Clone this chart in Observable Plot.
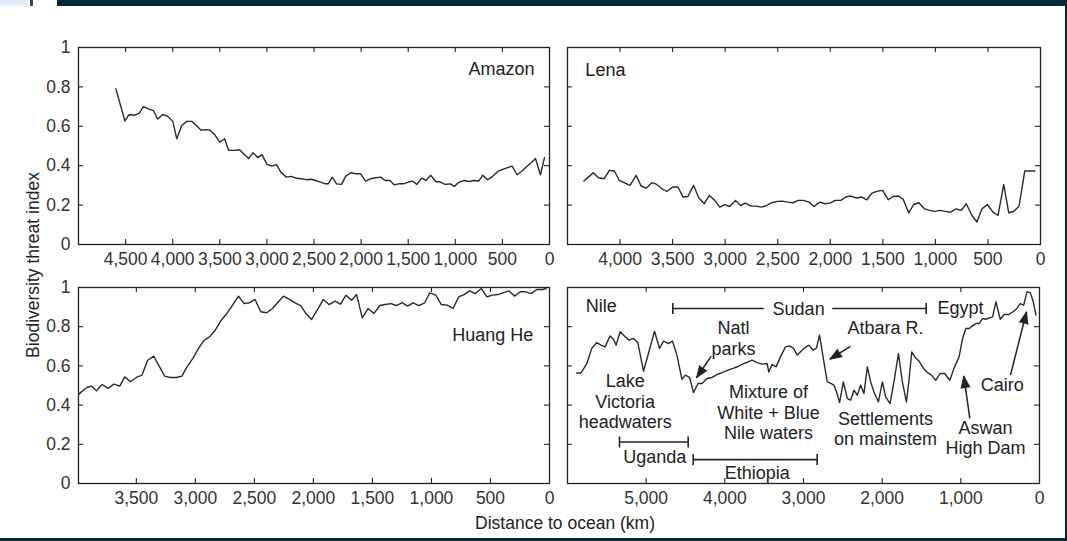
<!DOCTYPE html>
<html>
<head>
<meta charset="utf-8">
<script src="https://cdn.jsdelivr.net/npm/d3@7"></script>
<script src="https://cdn.jsdelivr.net/npm/@observablehq/plot@0.6"></script>
<style>
html,body{margin:0;padding:0;background:#fff;}
body{width:1067px;height:541px;overflow:hidden;position:relative;font-family:"Liberation Sans",Arial,Helvetica,sans-serif;color:#222;}
.abs{position:absolute;}
.panel svg{overflow:visible;}
.title{position:absolute;font-size:17.5px;white-space:nowrap;color:#222;}
</style>
</head>
<body>
<div class="abs" style="left:0;top:0;width:28px;height:6px;background:#deedfb"></div>
<div class="abs" style="left:30px;top:0;width:3px;height:6px;background:#44404e"></div>
<div class="abs" style="left:57px;top:0;width:1010px;height:6px;background:#03283c"></div>
<div class="abs" style="left:1065px;top:6px;width:2px;height:535px;background:#03283c"></div>
<div class="abs" style="left:0;top:538px;width:1067px;height:3px;background:#03283c"></div>
<div id="p-amazon" class="abs panel" style="left:0;top:37px"></div>
<div id="p-lena" class="abs panel" style="left:557px;top:37px"></div>
<div id="p-huang" class="abs panel" style="left:0;top:277px"></div>
<div id="p-nile" class="abs panel" style="left:557px;top:277px"></div>
<div class="title" id="ytitle" style="left:33px;top:265px;transform:translate(-50%,-50%) rotate(-90deg)">Biodiversity threat index</div>
<div class="title" id="xtitle" style="left:565px;top:523px;transform:translate(-50%,-50%)">Distance to ocean (km)</div>
<script>
// ---- data: [distance to ocean (km), biodiversity threat index] ----
const amazon = [[4603,0.79],[4507,0.627],[4461,0.66],[4407,0.656],[4354,0.667],[4312,0.70],[4265,0.69],[4205,0.68],[4159,0.637],[4106,0.66],[4052,0.65],[3999,0.625],[3957,0.537],[3903,0.605],[3850,0.625],[3797,0.625],[3751,0.605],[3698,0.58],[3644,0.583],[3602,0.58],[3549,0.554],[3502,0.52],[3449,0.537],[3407,0.478],[3343,0.478],[3290,0.481],[3247,0.461],[3194,0.436],[3148,0.466],[3094,0.441],[3052,0.456],[2999,0.407],[2945,0.398],[2899,0.405],[2846,0.364],[2793,0.342],[2740,0.346],[2686,0.336],[2633,0.334],[2580,0.329],[2527,0.331],[2484,0.325],[2431,0.317],[2378,0.308],[2349,0.308],[2307,0.342],[2260,0.308],[2207,0.305],[2165,0.346],[2111,0.364],[2058,0.359],[2005,0.359],[1952,0.322],[1898,0.334],[1845,0.339],[1792,0.342],[1746,0.325],[1693,0.325],[1650,0.303],[1597,0.308],[1551,0.308],[1498,0.317],[1455,0.322],[1409,0.305],[1356,0.337],[1313,0.325],[1260,0.351],[1207,0.32],[1160,0.317],[1107,0.305],[1054,0.308],[1011,0.295],[958,0.317],[905,0.325],[852,0.32],[806,0.325],[752,0.322],[710,0.351],[656,0.329],[603,0.346],[550,0.371],[497,0.381],[444,0.39],[397,0.398],[344,0.354],[291,0.373],[238,0.397],[195,0.415],[149,0.436],[96,0.354],[53,0.441]];
const lena = [[4344,0.322],[4302,0.342],[4255,0.364],[4207,0.339],[4150,0.334],[4102,0.376],[4054,0.373],[4006,0.325],[3952,0.312],[3905,0.30],[3847,0.351],[3800,0.297],[3752,0.286],[3698,0.314],[3650,0.305],[3602,0.283],[3555,0.269],[3500,0.292],[3449,0.292],[3402,0.241],[3354,0.244],[3300,0.30],[3252,0.237],[3198,0.207],[3150,0.249],[3099,0.224],[3052,0.19],[3004,0.202],[2956,0.193],[2902,0.224],[2854,0.198],[2807,0.21],[2753,0.195],[2705,0.195],[2654,0.19],[2606,0.198],[2558,0.212],[2504,0.219],[2457,0.22],[2403,0.215],[2355,0.212],[2304,0.224],[2256,0.224],[2202,0.215],[2154,0.193],[2100,0.215],[2052,0.207],[2002,0.21],[1954,0.224],[1900,0.224],[1852,0.241],[1804,0.246],[1750,0.236],[1702,0.241],[1652,0.227],[1604,0.261],[1550,0.271],[1502,0.275],[1448,0.227],[1400,0.244],[1352,0.246],[1305,0.229],[1254,0.161],[1206,0.203],[1158,0.212],[1104,0.181],[1056,0.173],[1002,0.168],[955,0.173],[907,0.168],[856,0.164],[802,0.181],[754,0.173],[706,0.207],[652,0.147],[605,0.114],[557,0.181],[506,0.203],[452,0.164],[404,0.147],[350,0.305],[302,0.161],[251,0.169],[204,0.195],[150,0.373],[54,0.373]];
const huangHe = [[3987,0.456],[3950,0.476],[3917,0.49],[3880,0.497],[3838,0.473],[3790,0.505],[3739,0.485],[3691,0.507],[3640,0.497],[3598,0.544],[3550,0.519],[3500,0.541],[3452,0.553],[3404,0.629],[3353,0.65],[3311,0.604],[3260,0.548],[3212,0.541],[3161,0.541],[3114,0.548],[3071,0.595],[3021,0.638],[2973,0.689],[2925,0.731],[2880,0.748],[2832,0.782],[2781,0.833],[2733,0.867],[2685,0.91],[2635,0.956],[2587,0.918],[2542,0.922],[2494,0.939],[2446,0.876],[2395,0.871],[2347,0.893],[2302,0.923],[2254,0.956],[2203,0.939],[2156,0.922],[2108,0.908],[2063,0.867],[2015,0.837],[1964,0.888],[1916,0.939],[1868,0.913],[1817,0.93],[1770,0.915],[1724,0.961],[1677,0.935],[1634,0.964],[1586,0.845],[1536,0.893],[1488,0.867],[1437,0.908],[1389,0.913],[1344,0.918],[1296,0.908],[1248,0.923],[1203,0.905],[1155,0.922],[1107,0.908],[1057,0.922],[1014,0.973],[964,0.961],[916,0.913],[868,0.91],[817,0.893],[769,0.952],[724,0.964],[676,0.983],[628,0.969],[578,0.995],[530,0.952],[485,0.961],[437,0.964],[389,0.974],[344,0.983],[296,0.956],[248,0.978],[203,0.978],[155,0.969],[107,0.99],[56,0.99],[28,0.995]];
const nile = [[5883,0.564],[5828,0.564],[5755,0.612],[5692,0.689],[5628,0.719],[5573,0.706],[5522,0.697],[5459,0.753],[5416,0.736],[5382,0.706],[5331,0.774],[5276,0.753],[5217,0.731],[5162,0.74],[5106,0.719],[5034,0.573],[4971,0.663],[4894,0.777],[4830,0.689],[4780,0.726],[4716,0.714],[4665,0.726],[4609,0.655],[4545,0.531],[4503,0.553],[4448,0.542],[4398,0.464],[4341,0.51],[4290,0.51],[4227,0.536],[4163,0.541],[4099,0.556],[4036,0.566],[3959,0.578],[3896,0.587],[3832,0.597],[3768,0.61],[3705,0.62],[3653,0.629],[3590,0.617],[3526,0.609],[3462,0.612],[3442,0.569],[3399,0.607],[3348,0.595],[3293,0.646],[3229,0.697],[3178,0.702],[3124,0.689],[3080,0.655],[3017,0.68],[2996,0.689],[2932,0.706],[2877,0.68],[2834,0.692],[2796,0.757],[2741,0.62],[2698,0.518],[2647,0.51],[2614,0.502],[2580,0.467],[2541,0.413],[2494,0.518],[2443,0.434],[2401,0.425],[2359,0.476],[2316,0.451],[2274,0.502],[2232,0.459],[2188,0.595],[2146,0.518],[2104,0.467],[2048,0.416],[1997,0.518],[1955,0.442],[1900,0.408],[1850,0.518],[1793,0.663],[1743,0.518],[1692,0.416],[1659,0.527],[1624,0.671],[1586,0.646],[1531,0.624],[1475,0.587],[1424,0.566],[1373,0.553],[1318,0.527],[1264,0.561],[1204,0.561],[1140,0.527],[1085,0.59],[1022,0.646],[978,0.74],[936,0.791],[894,0.791],[851,0.804],[809,0.816],[767,0.816],[724,0.842],[682,0.838],[639,0.845],[596,0.85],[554,0.927],[499,0.838],[448,0.862],[397,0.862],[341,0.875],[287,0.893],[245,0.918],[201,0.91],[159,0.978],[117,0.974],[79,0.927],[45,0.859]];

const amazonTicks = [4500,4000,3500,3000,2500,2000,1500,1000,500,0];
const lenaTicks = [4000,3500,3000,2500,2000,1500,1000,500,0];
const huangHeTicks = [3500,3000,2500,2000,1500,1000,500,0];
const nileTicks = [5000,4000,3000,2000,1000,0];
const yTicks = [0,0.2,0.4,0.6,0.8,1];

// Nile annotations (km, index)
const nileLabels = [
  {text:"Sudan", km:3062, v:0.893},
  {text:"Egypt", km:1005, v:0.9},
  {text:"Natl\nparks", km:3889, v:0.744},
  {text:"Atbara R.", km:1958, v:0.796},
  {text:"Lake\nVictoria\nheadwaters", km:5267, v:0.42},
  {text:"Mixture of\nWhite + Blue\nNile waters", km:3444, v:0.365},
  {text:"Settlements\non mainstem", km:1958, v:0.282},
  {text:"Aswan\nHigh Dam", km:687, v:0.236},
  {text:"Cairo", km:474, v:0.505},
  {text:"Uganda", km:4890, v:0.136},
  {text:"Ethiopia", km:3589, v:0.059}
];
const nileArrows = [
  {km1:4173, v1:0.65, km2:4360, v2:0.539},
  {km1:2402, v1:0.70, km2:2666, v2:0.634},
  {km1:886, v1:0.332, km2:962, v2:0.549},
  {km1:369, v1:0.553, km2:165, v2:0.876}
];
// bracket segments and their end caps
const nileBracketSegments = [
  {km1:4661, km2:3505, v:0.893},
  {km1:2635, km2:1440, v:0.893},
  {km1:5339, km2:4466, v:0.212},
  {km1:4402, km2:2826, v:0.122}
];
const nileBracketCaps = [
  {km:4661, v:0.893},{km:1440, v:0.893},
  {km:5339, v:0.212},{km:4466, v:0.212},
  {km:4402, v:0.122},{km:2826, v:0.122}
];

const INK = "#222";
const LINE = "#2a2a2a";
const TICKFONT = 17.5;
const ANNFONT = 18;

function panel(opts) {
  const {data, xmax, ticks, W, H, ml, showY, name, extra = []} = opts;
  const mt = 10, mr = 12, mb = 32;
  const marks = [
    Plot.frame({stroke: INK, strokeWidth: 1.3}),
    Plot.ruleX(ticks.filter(t => t > 0), {x: d => d, stroke: INK, strokeWidth: 1.1, insetTop: H - 5}),
    Plot.ruleX(ticks.filter(t => t > 0), {x: d => d, stroke: INK, strokeWidth: 1.1, insetBottom: H - 5}),
    Plot.ruleY(yTicks.filter(t => t > 0 && t < 1), {y: d => d, stroke: INK, strokeWidth: 1.1, insetRight: W - 5}),
    Plot.ruleY(yTicks.filter(t => t > 0 && t < 1), {y: d => d, stroke: INK, strokeWidth: 1.1, insetLeft: W - 5}),
    Plot.axisX(ticks, {anchor: "bottom", tickSize: 0, tickPadding: 8, tickFormat: d3.format(","), fontSize: TICKFONT, fill: "#333", label: null}),
    Plot.line(data, {x: d => d[0], y: d => d[1], stroke: LINE, strokeWidth: 1.4, strokeLinejoin: "round"}),
    ...extra
  ];
  if (showY) marks.push(Plot.axisY(yTicks, {anchor: "left", tickSize: 0, tickPadding: 8, tickFormat: d => String(d), fontSize: TICKFONT, fill: "#333", label: null}));
  if (name) marks.push(Plot.text([name], {x: name.km, y: name.v, text: d => d.text, textAnchor: name.anchor, fontSize: ANNFONT, fill: INK}));
  return Plot.plot({
    width: ml + W + mr,
    height: mt + H + mb,
    marginLeft: ml, marginRight: mr, marginTop: mt, marginBottom: mb,
    style: {background: "transparent", overflow: "visible", fontFamily: "'Liberation Sans', Arial, Helvetica, sans-serif"},
    x: {domain: [xmax, 0], axis: null},
    y: {domain: [0, 1], axis: null},
    marks
  });
}

document.getElementById("p-amazon").append(panel({
  data: amazon, xmax: 5000, ticks: amazonTicks, W: 471, H: 197, ml: 78, showY: true,
  name: {text: "Amazon", km: 160, v: 0.888, anchor: "end"}
}));
document.getElementById("p-lena").append(panel({
  data: lena, xmax: 4500, ticks: lenaTicks, W: 473, H: 197, ml: 10, showY: false,
  name: {text: "Lena", km: 4330, v: 0.887, anchor: "start"}
}));
document.getElementById("p-huang").append(panel({
  data: huangHe, xmax: 3990, ticks: huangHeTicks, W: 471, H: 196, ml: 78, showY: true,
  name: {text: "Huang He", km: 138, v: 0.757, anchor: "end"}
}));

const NW = 472, NH = 196, NMAX = 6000;
const kx = NW / NMAX;
const nileExtra = [
  Plot.text(nileLabels, {x: "km", y: "v", text: "text", textAnchor: "middle", lineAnchor: "middle", lineHeight: 1.15, fontSize: ANNFONT, fill: INK}),
  Plot.link(nileBracketSegments, {x1: "km1", x2: "km2", y1: "v", y2: "v", stroke: INK, strokeWidth: 1.6}),
  Plot.link(nileBracketCaps, {x1: "km", x2: "km", y1: d => d.v - 0.028, y2: d => d.v + 0.028, stroke: INK, strokeWidth: 1.6}),
  Plot.link(nileArrows, {x1: "km1", y1: "v1", x2: "km2", y2: "v2", stroke: INK, strokeWidth: 1.5}),
  Plot.vector(nileArrows, {
    x: "km2", y: "v2", anchor: "end", shape: "spike", length: 12, r: 4.5,
    rotate: d => Math.atan2(-(d.km2 - d.km1) * kx, (d.v2 - d.v1) * NH) * 180 / Math.PI,
    fill: INK, stroke: INK, strokeWidth: 0.8
  })
];
document.getElementById("p-nile").append(panel({
  data: nile, xmax: NMAX, ticks: nileTicks, W: NW, H: NH, ml: 10, showY: false, extra: nileExtra,
  name: {text: "Nile", km: 5769, v: 0.902, anchor: "start"}
}));
</script>
</body>
</html>
